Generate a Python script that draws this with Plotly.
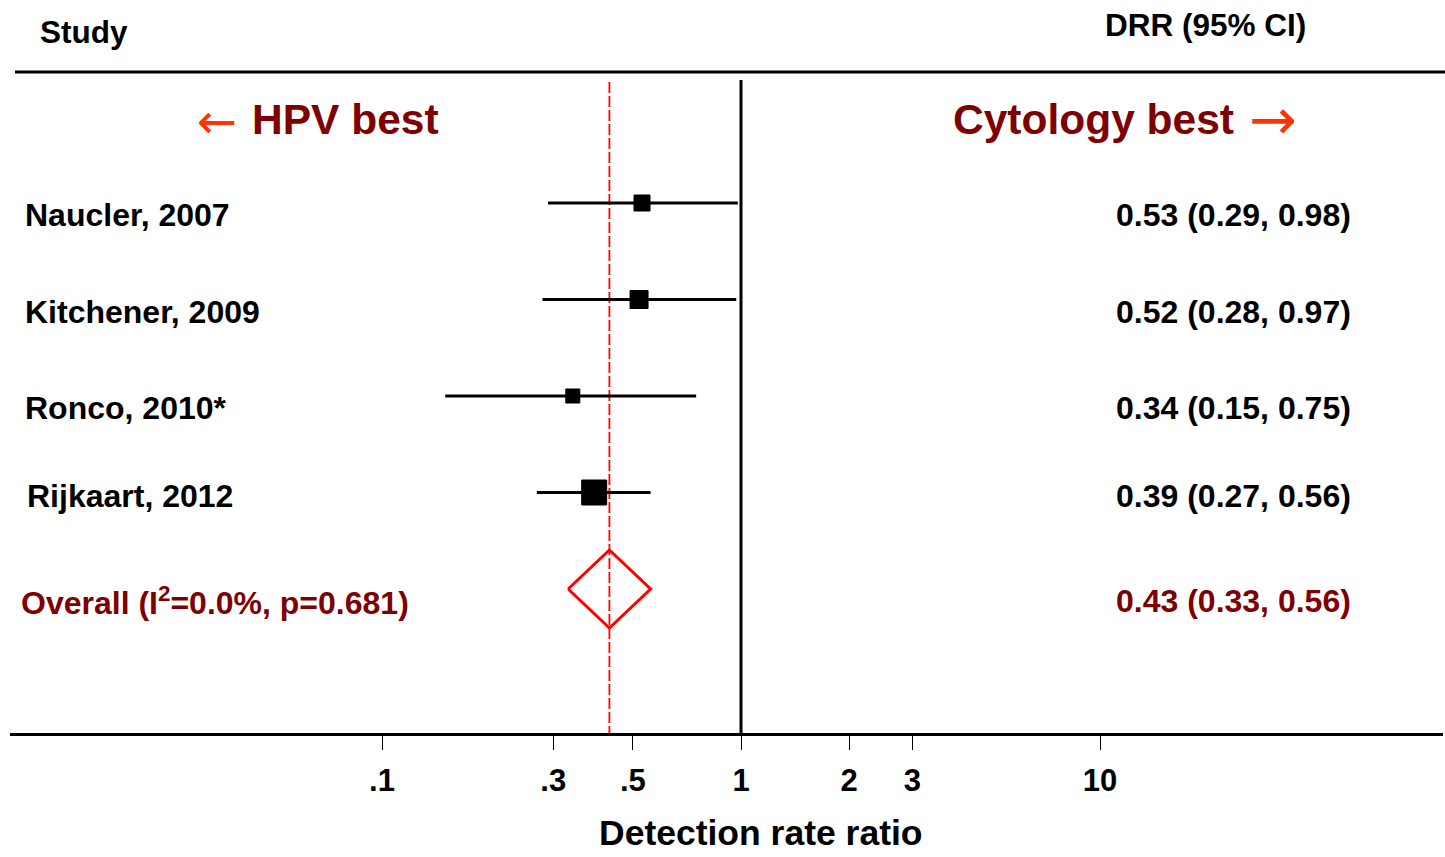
import plotly.graph_objects as go

# ---------------- data ----------------
studies = ["Naucler, 2007", "Kitchener, 2009", "Ronco, 2010*", "Rijkaart, 2012"]
drr = [0.53, 0.52, 0.34, 0.39]
ci_low = [0.29, 0.28, 0.15, 0.27]
ci_high = [0.98, 0.97, 0.75, 0.56]
study_weight_px = [15, 17, 13, 24]   # box size (study weight)

overall_label = "Overall (I<sup>2</sup>=0.0%, p=0.681)"
overall_drr = 0.43
overall_low = 0.33
overall_high = 0.56

tick_vals = [0.1, 0.3, 0.5, 1, 2, 3, 10]
tick_text = [".1", ".3", ".5", "1", "2", "3", "10"]
x_title = "Detection rate ratio"

# ---------------- layout helpers ----------------
W, H = 1445, 857
PL, PR, PT, PB = 10, 2, 0, 124           # margins (px)
PLOT_H = H - PT - PB                      # 733
ROW0_PX, ROW_STEP = 203, 96.5             # pixel y of first row, row spacing

def r_of(py):
    return (py - ROW0_PX) / ROW_STEP

def py_paper(py):
    return (PLOT_H - py) / PLOT_H

def px_paper(px):
    return (px - PL) / (W - PL - PR)

FONT = "Liberation Sans, Arial, sans-serif"
ARROW_FONT = "DejaVu Sans, sans-serif"
DARKRED = "#7f0000"
ARROWRED = "#ff3300"

rows = list(range(len(studies)))
overall_row = len(studies)

fig = go.Figure()

# reference line at 1
fig.add_trace(go.Scatter(x=[1, 1], y=[r_of(80), r_of(733)], mode="lines",
                         line=dict(color="black", width=3), hoverinfo="skip", showlegend=False))

# pooled estimate dashed line
fig.add_trace(go.Scatter(x=[overall_drr, overall_drr], y=[r_of(82), r_of(733)], mode="lines",
                         line=dict(color="#ff0000", width=1.8, dash="11px,3px"),
                         hoverinfo="skip", showlegend=False))

# confidence intervals
cx, cy = [], []
for lo, hi, r in zip(ci_low, ci_high, rows):
    cx += [lo, hi, None]
    cy += [r, r, None]
fig.add_trace(go.Scatter(x=cx, y=cy, mode="lines", line=dict(color="black", width=3),
                         hoverinfo="skip", showlegend=False))

# point estimates
fig.add_trace(go.Scatter(x=drr, y=rows, mode="markers", opacity=1,
                         marker=dict(symbol="square", color="#000000", opacity=1,
                                     size=[s + 1 for s in study_weight_px],
                                     line=dict(width=1, color="#000000")),
                         showlegend=False))

# overall diamond
h = 39 / ROW_STEP
fig.add_trace(go.Scatter(
    x=[overall_low, overall_drr, overall_high, overall_drr, overall_low],
    y=[overall_row, overall_row - h, overall_row, overall_row + h, overall_row],
    mode="lines", line=dict(color="#ff0000", width=3), hoverinfo="skip", showlegend=False))

# ---------------- text ----------------
ann = []
def txt(text, px, py, size, color="black", xanchor="left", bold=True, family=FONT):
    ann.append(dict(text=text, x=px_paper(px), y=py_paper(py), xref="paper", yref="paper",
                    xanchor=xanchor, yanchor="middle", showarrow=False,
                    font=dict(family=family, size=size, color=color,
                              weight="bold" if bold else "normal")))

txt("Study", 38, 32, 31.5)
txt("DRR (95% CI)", 1103, 25, 31.5)

txt("\u2190", 239, 121, 48, ARROWRED, xanchor="right", bold=False, family=ARROW_FONT)
txt("HPV best", 250, 119, 42.5, DARKRED)
txt("Cytology best", 951, 119, 42.5, DARKRED)
txt("\u2192", 1247, 119, 57, ARROWRED, bold=False, family=ARROW_FONT)

label_py = [215, 312, 408, 496]
label_px = [23, 23, 23, 25]
for s, lo, hi, d, py, px in zip(studies, ci_low, ci_high, drr, label_py, label_px):
    txt(s, px, py, 32)
    txt(f"{d:.2f} ({lo:.2f}, {hi:.2f})", 1114, py, 32)

txt(overall_label, 19, 601, 32, DARKRED)
txt(f"{overall_drr:.2f} ({overall_low:.2f}, {overall_high:.2f})", 1114, 601, 32, DARKRED)

# x-axis title (centred under the reference line as in the original)
txt(x_title, 761, 833, 35.5, xanchor="center")

# top rule
shapes = [dict(type="line", xref="paper", yref="paper",
               x0=px_paper(15), x1=px_paper(1445), y0=py_paper(72), y1=py_paper(72),
               line=dict(color="black", width=3))]

fig.update_layout(
    width=W, height=H,
    margin=dict(l=PL, r=PR, t=PT, b=PB, pad=0, autoexpand=False),
    paper_bgcolor="white", plot_bgcolor="white",
    annotations=ann, shapes=shapes,
    xaxis=dict(type="log", range=[(PL - 741) / 359, (W - PR - 741) / 359],
               tickvals=tick_vals, ticktext=tick_text,
               ticks="outside", ticklen=14, tickwidth=1, tickcolor="black",
               showline=True, linewidth=3, linecolor="black",
               showgrid=False, zeroline=False, fixedrange=True,
               tickfont=dict(family=FONT, size=31, color="black", weight="bold"),
               ticklabelstandoff=4),
    yaxis=dict(range=[r_of(PLOT_H), r_of(0)], visible=False, showgrid=False,
               zeroline=False, fixedrange=True),
)

fig.write_html("out.html", config={"displayModeBar": False},
               post_script="document.body.style.margin='0px';")
